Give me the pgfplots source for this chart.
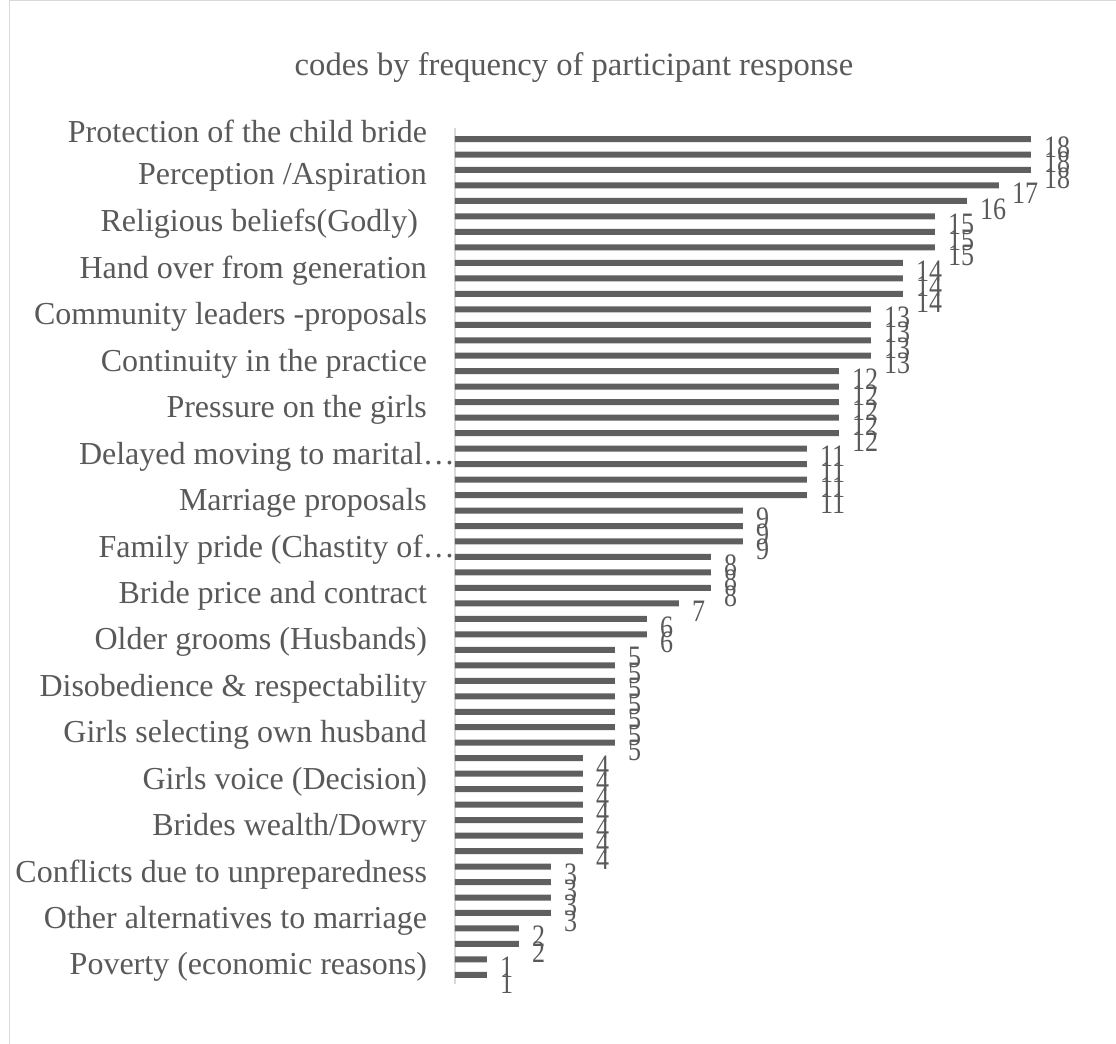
\documentclass[border=0pt]{standalone}
\usepackage{fontspec}
\setmainfont{Liberation Serif}
\usepackage{graphicx}
\usepackage{pgfplots}
\usepackage{pgfplotstable}
\pgfplotsset{compat=1.18}
\definecolor{txt}{HTML}{595959}
\definecolor{barc}{HTML}{5F5F5F}
\definecolor{framec}{HTML}{D9D9D9}
\pgfplotstableread{
y x
55 18
54 18
53 18
52 17
51 16
50 15
49 15
48 15
47 14
46 14
45 14
44 13
43 13
42 13
41 13
40 12
39 12
38 12
37 12
36 12
35 11
34 11
33 11
32 11
31 9
30 9
29 9
28 8
27 8
26 8
25 7
24 6
23 6
22 5
21 5
20 5
19 5
18 5
17 5
16 5
15 4
14 4
13 4
12 4
11 4
10 4
9 4
8 3
7 3
6 3
5 3
4 2
3 2
2 1
1 1
}\codes
\begin{document}
\begin{tikzpicture}
\useasboundingbox (0,0) rectangle (558pt,522pt);
\draw[framec, line width=0.6pt] (4.75pt,0) -- (4.75pt,521.6pt) -- (558pt,521.6pt);
\begin{axis}[
  at={(227.5pt,29.9pt)}, anchor=south west,
  scale only axis, width=320pt, height=428pt,
  xbar, bar width=3pt,
  xmin=0, xmax=20, ymin=0.4, ymax=55.7,
  axis x line=none,
  axis y line=left,
  y axis line style={-, draw=framec, line width=0.6pt},
  major tick length=0pt,
  ytick style={draw=none},
  ytick={1.5,4.5,7.5,10.5,13.5,16.5,19.5,22.5,25.5,28.5,31.5,34.5,37.5,40.5,43.5,46.5,49.5,52.5,55.5},
  yticklabels={
    Poverty (economic reasons),
    Other alternatives to marriage,
    Conflicts due to unpreparedness,
    Brides wealth/Dowry,
    Girls voice (Decision),
    Girls selecting own husband,
    Disobedience \& respectability,
    Older grooms (Husbands),
    Bride price and contract,
    {Family pride (Chastity of\ldots\kern-14pt},
    Marriage proposals,
    {Delayed moving to marital\ldots\kern-14pt},
    Pressure on the girls,
    Continuity in the practice,
    Community leaders -proposals,
    Hand over from generation,
    {Religious beliefs(Godly)\hspace*{4.5pt}},
    Perception /Aspiration,
    Protection of the child bride},
  yticklabel style={font=\fontsize{16}{17}\selectfont, text=txt, xshift=-10.5pt},
  clip=false,
  point meta=x,
  nodes near coords={\scalebox{1}[1.2]{\pgfmathprintnumber{\pgfplotspointmeta}}},
  /pgf/number format/assume math mode=true,
  nodes near coords style={font=\fontsize{13}{13}\selectfont, text=txt, anchor=west, xshift=3pt, yshift=-4pt},
]
\addplot[fill=barc, draw=none] table[x=x, y=y] {\codes};
\end{axis}
\node[text=txt, font=\fontsize{16.3}{17}\selectfont] at (287pt,488pt) {codes by frequency of participant response};
\end{tikzpicture}
\end{document}
